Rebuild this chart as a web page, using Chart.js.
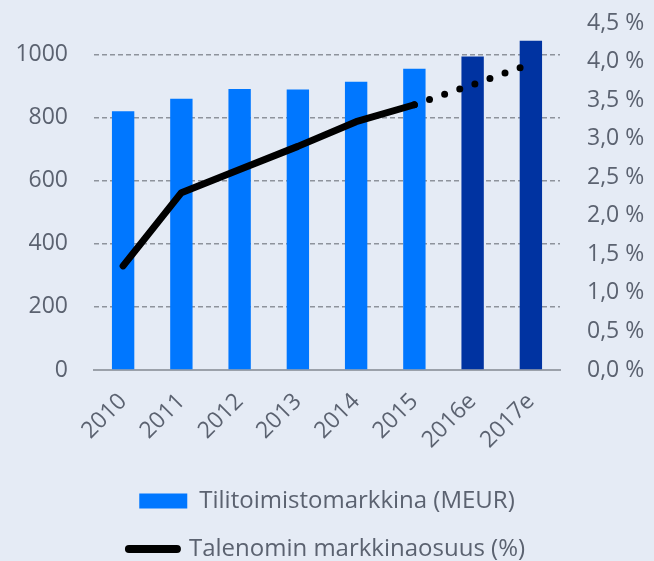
<!DOCTYPE html>
<html>
<head>
<meta charset="utf-8">
<script src="https://cdn.jsdelivr.net/npm/chart.js@4"></script>
<style>
  html, body { margin: 0; padding: 0; background: #e5ebf5; }
  #wrap { width: 654px; height: 561px; }
</style>
</head>
<body>
<div id="wrap"><canvas id="myChart" width="654" height="561"></canvas></div>
<script>
// vuodet ja arvot luettu kuvasta
var vuodet = ['2010', '2011', '2012', '2013', '2014', '2015', '2016e', '2017e'];
var markkina = [820, 860, 891, 889, 914, 955, 994, 1044];
var osuus = [1.35, 2.30, 2.60, 2.90, 3.22, 3.44, 3.70, 3.97];
var vasenTicks = [0, 200, 400, 600, 800, 1000];
var toteutunut = 5; // 2015 viimeinen toteutunut vuosi

var vaalea = '#0077ff';
var tumma = '#0033a1';
var tekstiVari = '#5b6270';
var pylvasVarit = vuodet.map((v, i) => i > toteutunut ? tumma : vaalea);

Chart.defaults.font.family = "'Open Sans', sans-serif";
Chart.defaults.font.size = 23;
Chart.defaults.color = tekstiVari;

var dataset = [{
    type: 'bar',
    label: 'Tilitoimistomarkkina (MEUR)',
    data: markkina,
    backgroundColor: pylvasVarit,
    barPercentage: 0.48,
    categoryPercentage: 0.8,
    yAxisID: 'y',
    order: 1
}, {
    type: 'line',
    label: 'Talenomin markkinaosuus (%)',
    data: osuus,
    borderColor: '#000',
    backgroundColor: '#000',
    borderWidth: 7,
    borderCapStyle: 'round',
    borderJoinStyle: 'round',
    pointRadius: 0,
    tension: 0,
    yAxisID: 'y1',
    order: 0,
    segment: {
        borderDash: (ctx) => ctx.p0DataIndex >= toteutunut ? [0, 16] : undefined
    }
}];

var option = {
    responsive: false,
    animation: false,
    layout: { padding: { top: 23 } },
    scales: {
        x: {
            grid: { display: false },
            border: { display: true, color: '#9ba1aa', width: 2 },
            ticks: { minRotation: 45, maxRotation: 45, padding: 10 },
            afterFit: (scale) => { scale.height = 95; }
        },
        y: {
            position: 'left',
            min: 0,
            max: 1100,
            afterBuildTicks: (scale) => { scale.ticks = vasenTicks.map(v => ({value: v})); },
            grid: {
                drawTicks: true,
                tickLength: 26,
                tickColor: 'rgba(0,0,0,0)',
                lineWidth: 1.5,
                color: (ctx) => (ctx.tick && ctx.tick.value === 0) ? 'rgba(0,0,0,0)' : '#8e939c'
            },
            border: { display: false, dash: [5, 3] },
            ticks: { padding: 0, callback: (value) => String(value) },
            afterFit: (scale) => { scale.width = 94; }
        },
        y1: {
            position: 'right',
            min: 0,
            max: 4.5,
            grid: {
                drawOnChartArea: false,
                drawTicks: true,
                tickLength: 27,
                tickColor: 'rgba(0,0,0,0)'
            },
            border: { display: false },
            ticks: {
                stepSize: 0.5,
                padding: 0,
                callback: (value) => value.toFixed(1).replace('.', ',') + ' %'
            },
            afterFit: (scale) => { scale.width = 94; }
        }
    },
    plugins: {
        tooltip: { enabled: false },
        legend: {
            position: 'bottom',
            maxHeight: 96,
            labels: {
                usePointStyle: true,
                pointStyleWidth: 48,
                boxHeight: 15,
                padding: 24,
                color: tekstiVari,
                font: { size: 24 },
                sort: (a, b) => a.datasetIndex - b.datasetIndex,
                generateLabels: function(chart) {
                    var items = Chart.defaults.plugins.legend.labels.generateLabels(chart);
                    items.forEach(function(it) {
                        if (it.datasetIndex === 0) {
                            it.pointStyle = 'rect';
                            it.fillStyle = vaalea;
                            it.lineWidth = 0;
                        } else {
                            it.pointStyle = 'line';
                            it.strokeStyle = '#000';
                            it.lineWidth = 8;
                            it.lineCap = 'round';
                            it.lineDash = [];
                        }
                    });
                    return items;
                }
            }
        }
    }
};

var ctx = document.getElementById('myChart').getContext('2d');
var myChart = new Chart(ctx, {
    type: 'bar',
    data: { labels: vuodet, datasets: dataset },
    options: option
});
</script>
</body>
</html>
